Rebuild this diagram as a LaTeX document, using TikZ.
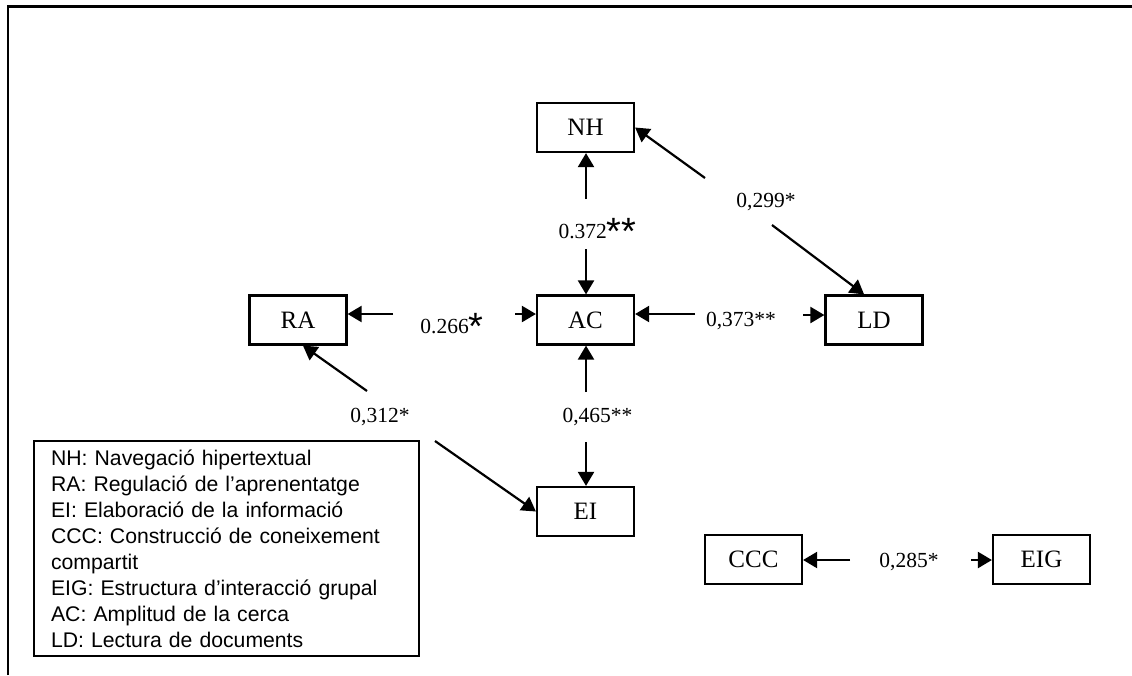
\documentclass[tikz,border=0pt]{standalone}
\usepackage{fontspec}
\setmainfont{Liberation Serif}
\newfontfamily\legendfont{Liberation Sans}
\usepackage{tikz}
\usetikzlibrary{arrows.meta, calc}
\newcommand{\sigast}{\raisebox{-6pt}{\legendfont\fontsize{38}{38}\selectfont *}}

\begin{document}
\begin{tikzpicture}[x=1pt, y=-1pt,
  box/.style={draw, line width=2.2pt, minimum width=97pt, minimum height=49pt, inner sep=0pt, font=\fontsize{25}{30}\selectfont},
  coef/.style={anchor=base, inner sep=0pt, font=\fontsize{21.5}{26}\selectfont},
  arrow/.style={-{Triangle[length=14pt, width=16pt]}, line width=2.2pt},
  legendbox/.style={draw, line width=2.2pt, anchor=north west, minimum height=215pt, text width=351pt, align=left, inner xsep=17pt, font=\legendfont\fontsize{21.2}{26}\selectfont}
]
  \useasboundingbox (0,0) rectangle (1132,675);
  % Frame
  \draw[line width=2.2pt] (8,675) -- (8,6.5) -- (1132,6.5);

  % Variables
  \node[box] (NH) at (585.5,127.5) {NH};
  \node[box] (RA) at (298,320) {RA};
  \node[box] (AC) at (585.5,320) {AC};
  \node[box] (LD) at (874,320) {LD};
  \node[box] (EI) at (585.5,511.5) {EI};
  \node[box] (CCC) at (753.5,559.5) {CCC};
  \node[box] (EIG) at (1041.5,559.5) {EIG};

  % Coefficients
  \node[coef] (l372) at (597.5,238) {0.372\sigast\sigast};
  \node[coef] (l299) at (766,207) {0,299*};
  \node[coef] (l266) at (452,333) {0.266\sigast};
  \node[coef] (l373) at (741,326) {0,373**};
  \node[coef] (l312) at (380,422) {0,312*};
  \node[coef] (l465) at (597.5,422) {0,465**};
  \node[coef] (l285) at (909,567) {0,285*};

  % Free ends of the arrows
  \coordinate (c372a) at (586,199);
  \coordinate (c372b) at (586,249);
  \coordinate (c299a) at (705,178);
  \coordinate (c299b) at (772,225);
  \coordinate (c266a) at (393,314);
  \coordinate (c266b) at (515,314);
  \coordinate (c373a) at (695,314);
  \coordinate (c373b) at (803,315);
  \coordinate (c312a) at (367,391);
  \coordinate (c312b) at (435,441);
  \coordinate (c465a) at (586,392);
  \coordinate (c465b) at (586,442);
  \coordinate (c285a) at (850,560);
  \coordinate (c285b) at (971,560);

  % Arrows
  \draw[arrow] (c372a) -- (c372a |- NH.south);
  \draw[arrow] (c372b) -- (c372b |- AC.north);
  \draw[arrow] (c299a) -- (NH.east);
  \draw[arrow] (c299b) -- ($(LD.north west)!0.4!(LD.north east)$);
  \draw[arrow] (c266a) -- (c266a -| RA.east);
  \draw[arrow] (c266b) -- (c266b -| AC.west);
  \draw[arrow] (c373a) -- (c373a -| AC.east);
  \draw[arrow] (c373b) -- (c373b -| LD.west);
  \draw[arrow] (c312a) -- ($(RA.south west)!0.55!(RA.south east)$);
  \draw[arrow] (c312b) -- (EI.west);
  \draw[arrow] (c465a) -- (c465a |- AC.south);
  \draw[arrow] (c465b) -- (c465b |- EI.north);
  \draw[arrow] (c285a) -- (c285a -| CCC.east);
  \draw[arrow] (c285b) -- (c285b -| EIG.west);

  % Legend
  \node[legendbox] (legend) at (33,440) {NH: Navegació hipertextual\\
    RA: Regulació de l’aprenentatge\\
    EI: Elaboració de la informació\\
    CCC: Construcció de coneixement\\
    compartit\\
    EIG: Estructura d’interacció grupal\\
    AC: Amplitud de la cerca\\
    LD: Lectura de documents};
\end{tikzpicture}
\end{document}
